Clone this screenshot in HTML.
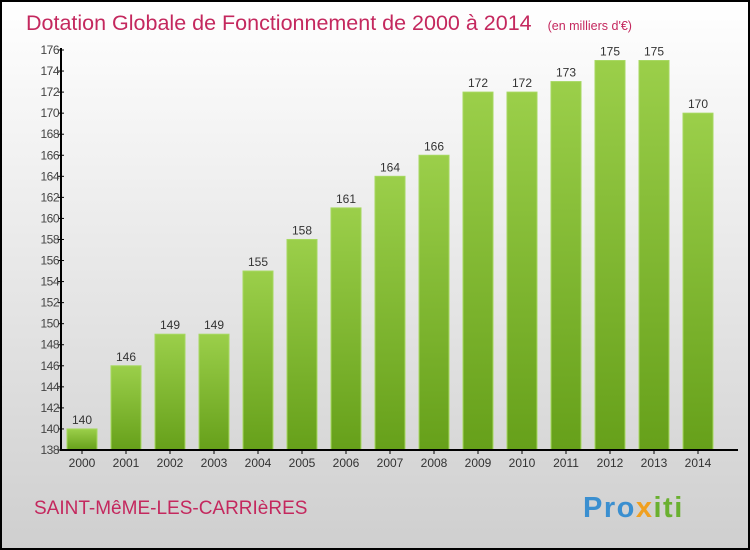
<!DOCTYPE html>
<html><head><meta charset="utf-8"><style>
body{margin:0}
#c{width:750px;height:550px;position:relative;box-sizing:border-box;border:2px solid #000;background:linear-gradient(#fff,#cfcfcf);font-family:"Liberation Sans",sans-serif;overflow:hidden}
</style></head><body>
<div id="c">
<svg width="750" height="550" style="position:absolute;left:-2px;top:-2px">
<defs><linearGradient id="g" x1="0" y1="0" x2="0" y2="1"><stop offset="0" stop-color="#9bcf4a"/><stop offset="1" stop-color="#66a01a"/></linearGradient></defs>
<text x="26" y="30" font-size="21.5" fill="#c4285e">Dotation Globale de Fonctionnement de 2000 à 2014 <tspan font-size="12.5" dx="10">(en milliers d'€)</tspan></text>
<g id="plot"></g>
<text x="34" y="514" font-size="19" fill="#c4285e">SAINT-MêME-LES-CARRIèRES</text>
<text x="583" y="517" font-size="29" font-weight="bold" letter-spacing="1.5" fill="#3a8fd0">Pro<tspan fill="#f0a020">x</tspan><tspan fill="#6ab030">iti</tspan></text>
</svg>
</div>
<script>
const years=["2000","2001","2002","2003","2004","2005","2006","2007","2008","2009","2010","2011","2012","2013","2014"];
const values=[140,146,149,149,155,158,161,164,166,172,172,173,175,175,170];
const ticks=[138,140,142,144,146,148,150,152,154,156,158,160,162,164,166,168,170,172,174,176];
const NS="http://www.w3.org/2000/svg",g=document.getElementById('plot');
const y=v=>450-(v-138)*400/38, x=i=>82+i*44;
function el(t,a){const e=document.createElementNS(NS,t);for(const k in a)e.setAttribute(k,a[k]);g.appendChild(e);return e;}
years.forEach((yr,i)=>{
 const b=el('rect',{x:x(i)-15,y:y(values[i]),width:30,height:450-y(values[i]),fill:'url(#g)',stroke:'#a6d860','stroke-width':1});
 
 
 const t=el('text',{x:x(i),y:y(values[i])-5,'text-anchor':'middle','font-size':12,fill:'#333'});t.textContent=values[i];
 
 
 const l=el('text',{x:x(i),y:467,'text-anchor':'middle','font-size':12,fill:'#333'});l.textContent=yr;
 
 
 el('line',{x1:x(i),x2:x(i),y1:450,y2:454,stroke:'#000'});
});
ticks.forEach(v=>{
 el('line',{x1:58,x2:64,y1:y(v),y2:y(v),stroke:'#000'});
 const t=el('text',{x:59,y:y(v)+4,'text-anchor':'end','font-size':12,fill:'#444','letter-spacing':'-0.5'});t.textContent=v;
 
 
});
const ax=el('path',{d:'M61 48V450H738',stroke:'#000','stroke-width':2,fill:'none'});


</script>
</body></html>
